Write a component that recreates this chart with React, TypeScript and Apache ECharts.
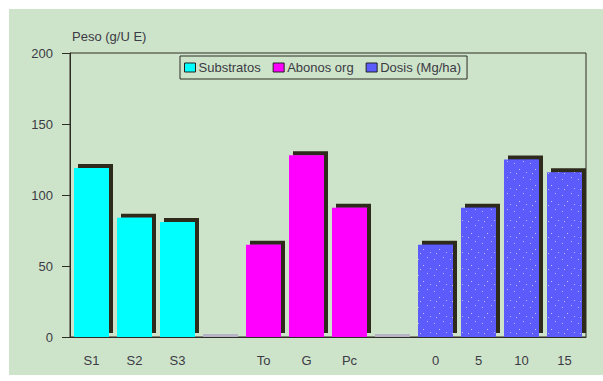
import React, { useEffect, useRef } from "react";
import * as echarts from "echarts";

// Categories along the x axis; empty strings are the spacer slots between groups
const categories = ["S1", "S2", "S3", "", "To", "G", "Pc", "", "0", "5", "10", "15"];

// Weight per experimental unit (g/U E), one array per treatment group
const substratos = [119, 84, 81, null, null, null, null, null, null, null, null, null];
const abonosOrg = [null, null, null, null, 65, 128, 91, null, null, null, null, null];
const dosis = [null, null, null, null, null, null, null, null, 65, 91, 125, 116];
const spacers = [null, null, null, 0, null, null, null, 0, null, null, null, null];

const yTicks = { min: 0, max: 200, interval: 50 };

const FONT = "Liberation Sans";
const TEXT = "#3c3a44";
const LINE = "#2e2c24";
const SHADOW = "#2e2c1c";
const BAR_W = 35;

const barShadow = {
  shadowColor: SHADOW,
  shadowBlur: 0,
  shadowOffsetX: 4,
  shadowOffsetY: -4,
};

// Speckled fill for the dose bars
const speckle = {
  image: (() => {
    const c = document.createElement("canvas");
    c.width = 16;
    c.height = 16;
    const g = c.getContext("2d");
    if (g) {
      g.fillStyle = "#5c5cfc";
      g.fillRect(0, 0, 16, 16);
      g.fillStyle = "rgba(215,200,240,0.85)";
      g.fillRect(2, 3, 1, 1);
      g.fillRect(11, 1, 1, 1);
      g.fillRect(7, 9, 1, 1);
      g.fillRect(14, 12, 1, 1);
      g.fillRect(4, 13, 1, 1);
    }
    return c;
  })(),
  repeat: "repeat",
};

export default function App() {
  const ref = useRef<HTMLDivElement>(null);

  useEffect(() => {
    if (!ref.current) return;
    const chart = echarts.init(ref.current, null, { renderer: "svg" });
    chart.setOption({
      animation: false,
      backgroundColor: "#ffffff",
      textStyle: { fontFamily: FONT },
      graphic: [
        {
          type: "rect",
          z: -10,
          silent: true,
          shape: { x: 9, y: 9, width: 594, height: 366 },
          style: { fill: "#cde4ca" },
        },
      ],
      grid: {
        left: 70,
        right: 17,
        top: 53,
        bottom: 44,
        show: true,
        borderColor: LINE,
        borderWidth: 1,
        backgroundColor: "transparent",
      },
      legend: {
        data: [
          { name: "Substratos" },
          { name: "Abonos org" },
          { name: "Dosis (Mg/ha)", itemStyle: { color: "#5c5cfc" } },
        ],
        left: 180,
        top: 56,
        orient: "horizontal",
        borderColor: LINE,
        borderWidth: 1,
        padding: [5, 6, 5, 4],
        itemGap: 12,
        itemWidth: 11,
        itemHeight: 9,
        icon: "rect",
        itemStyle: {
          borderColor: "#222",
          borderWidth: 1,
          shadowColor: "transparent",
          shadowOffsetX: 0,
          shadowOffsetY: 0,
        },
        textStyle: { color: TEXT, fontSize: 13, fontFamily: FONT, padding: [0, 0, 0, -2] },
      },
      xAxis: {
        type: "category",
        data: categories,
        axisLine: { lineStyle: { color: LINE, width: 1 } },
        axisTick: { alignWithLabel: true, length: 9, lineStyle: { color: LINE } },
        axisLabel: { color: TEXT, fontSize: 13, margin: 17, fontFamily: FONT },
      },
      yAxis: {
        type: "value",
        min: yTicks.min,
        max: yTicks.max,
        interval: yTicks.interval,
        name: "Peso (g/U E)",
        nameLocation: "end",
        nameGap: 10,
        nameTextStyle: { color: TEXT, fontSize: 13, align: "left", fontFamily: FONT, padding: [0, 0, 0, 2] },
        axisLine: { show: true, lineStyle: { color: LINE, width: 1 } },
        axisTick: { show: true, length: 8, lineStyle: { color: LINE } },
        axisLabel: { color: TEXT, fontSize: 13, margin: 17, fontFamily: FONT },
        splitLine: { show: false },
      },
      series: [
        {
          name: "Substratos",
          type: "bar",
          stack: "all",
          barWidth: BAR_W,
          data: substratos,
          itemStyle: { color: "#00ffff", ...barShadow },
        },
        {
          name: "Abonos org",
          type: "bar",
          stack: "all",
          barWidth: BAR_W,
          data: abonosOrg,
          itemStyle: { color: "#ff00ff", ...barShadow },
        },
        {
          name: "Dosis (Mg/ha)",
          type: "bar",
          stack: "all",
          barWidth: BAR_W,
          data: dosis,
          itemStyle: { color: speckle, ...barShadow },
        },
        {
          name: "spacer",
          type: "bar",
          stack: "all",
          barWidth: BAR_W,
          barMinHeight: 3,
          data: spacers,
          itemStyle: { color: "#b7b3c6" },
        },
      ],
    });
    return () => chart.dispose();
  }, []);

  return (
    <div
      ref={ref}
      style={{ position: "fixed", left: 0, top: 0, width: 603, height: 381 }}
    />
  );
}
